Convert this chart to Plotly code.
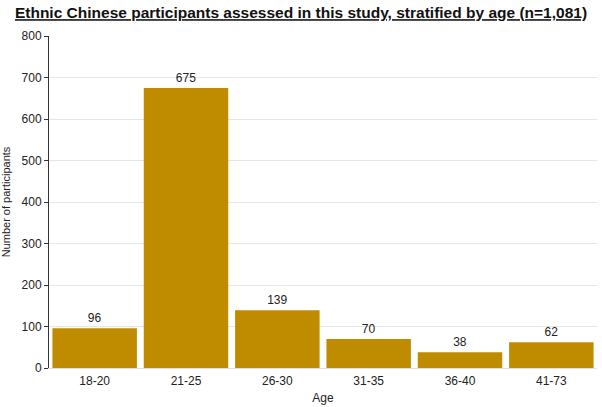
import plotly.graph_objects as go

categories = ["18-20", "21-25", "26-30", "31-35", "36-40", "41-73"]
values = [96, 675, 139, 70, 38, 62]
title_text = "Ethnic Chinese participants assessed in this study, stratified by age (n=1,081)"

fig = go.Figure(go.Bar(
    x=categories, y=values, text=[str(v) for v in values],
    textposition="outside", cliponaxis=False,
    marker=dict(color="#BF8C00", line=dict(width=0)),
    textfont=dict(family="Liberation Sans, Arial", size=12, color="#222"),
))
fig.update_layout(
    width=602, height=407,
    margin=dict(l=49, r=5, t=36, b=39),
    paper_bgcolor="white", plot_bgcolor="white",
    bargap=0.075,
    showlegend=False,
    font=dict(family="Liberation Sans, Arial", size=12, color="#222"),
    title=dict(text="<b><u>" + title_text + "</u></b>", x=0.5, xanchor="center",
               y=0.982, yanchor="top", font=dict(size=15.5, color="#111")),
)
fig.update_yaxes(range=[0, 800], dtick=100, showgrid=True, gridcolor="#e6e6e6",
                 showline=True, linecolor="#333", linewidth=1, ticks="outside",
                 ticklen=4, tickcolor="#333", zeroline=False, automargin=False,
                 title=dict(text="Number of participants", font=dict(size=11), standoff=8),
                 tickfont=dict(size=12))
fig.update_xaxes(showline=True, linecolor="#e0e0e0", linewidth=1, ticks="outside",
                 ticklen=2, tickcolor="rgba(0,0,0,0)", automargin=False,
                 title=dict(text="Age", font=dict(size=12), standoff=6),
                 tickfont=dict(size=12))
fig.write_html("out.html", config={"displayModeBar": False},
               post_script="document.body.style.margin='0';")
